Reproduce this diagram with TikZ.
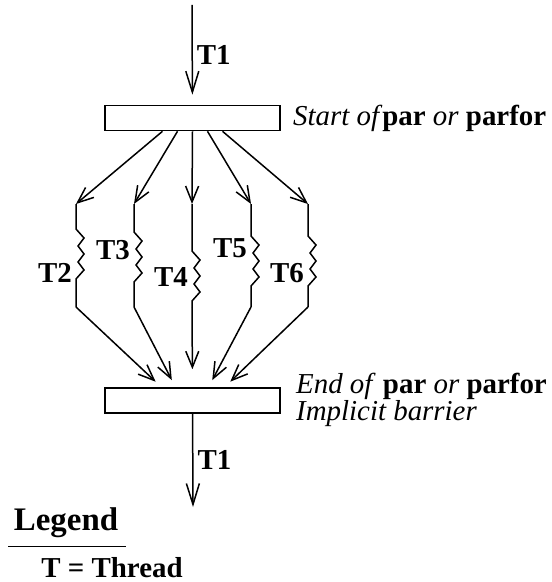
\documentclass[tikz,border=0pt]{standalone}
\usepackage{fontspec}
\setmainfont{Liberation Serif}
\usepackage{tikz}
\usetikzlibrary{positioning,arrows.meta}

\begin{document}
\begin{tikzpicture}[
  x=1bp, y=-1bp,
  font=\fontsize{29}{24}\selectfont,
  bar/.style={draw, line width=1.6bp, minimum width=175bp, minimum height=25bp, inner sep=0pt},
  flow/.style={-{Straight Barb[length=16bp,width=13bp]}, line width=1.5bp},
  tid/.style={font=\fontsize{29}{24}\selectfont\bfseries, inner sep=1bp},
  zig/.style={insert path={-- ++(8,9) -- ++(-6,8) -- ++(6,8) -- ++(-6,8) -- ++(6,8) -- ++(-8,9)}}]
  \useasboundingbox (0,0) rectangle (552,582);
  % fork and join bars
  \coordinate (in) at (192,5);
  \node[bar] (startbar) at (192.5,118) {};
  \node[bar] (endbar) at (192.5,400.5) {};
  \coordinate (out) at (193,507);
  \node[anchor=west, inner sep=1bp] (startlbl) at (292,118) {\textit{Start of}\textbf{par} \textit{or} \textbf{parfor}};
  \node[anchor=west, align=left, inner sep=1bp] (endlbl) at (295,400) {\textit{End of} \textbf{par} \textit{or} \textbf{parfor}\\\textit{Implicit barrier}};
  % master thread in and out
  \draw[flow, shorten >=10bp, {-Straight Barb[length=21bp,width=13bp]}] (in) -- node[tid, right=3bp] (t1a) {T1} (startbar);
  \draw[flow, {-Straight Barb[length=21bp,width=13bp]}] (endbar) -- node[tid, right=3bp] (t1b) {T1} (out);
  % worker threads
  \foreach \n/\x/\dx/\z/\ly/\ex/\sh in {2/76/-30/25/273/-31/8, 3/134/-15/28/250/-17/8, 4/192/0/47/277/0/18, 5/251/15/32/248/16/8, 6/308/30/32/273/32/8} {
    \coordinate (top\n) at (\x,204);
    \coordinate (bot\n) at (\x,307);
    \draw[flow] ([xshift=\dx bp]startbar.south) -- (top\n);
    \draw[line width=1.5bp] (top\n) -- ++(0,\z) [zig] -- (bot\n);
    \node[tid, anchor=east] (t\n) at (\x-3,\ly) {T\n};
    \draw[flow, shorten >=\sh bp] (bot\n) -- ([xshift=\ex bp]endbar.north);
  }
  % legend
  \node[font=\fontsize{33}{33}\selectfont\bfseries] (legend) at (66,523) {Legend};
  \draw[line width=1.4bp] ([xshift=-2bp,yshift=-5bp]legend.south west) -- ([xshift=4bp,yshift=-5bp]legend.south east);
  \node[tid, anchor=base] (key) at (112,577) {T = Thread};
\end{tikzpicture}
\end{document}
